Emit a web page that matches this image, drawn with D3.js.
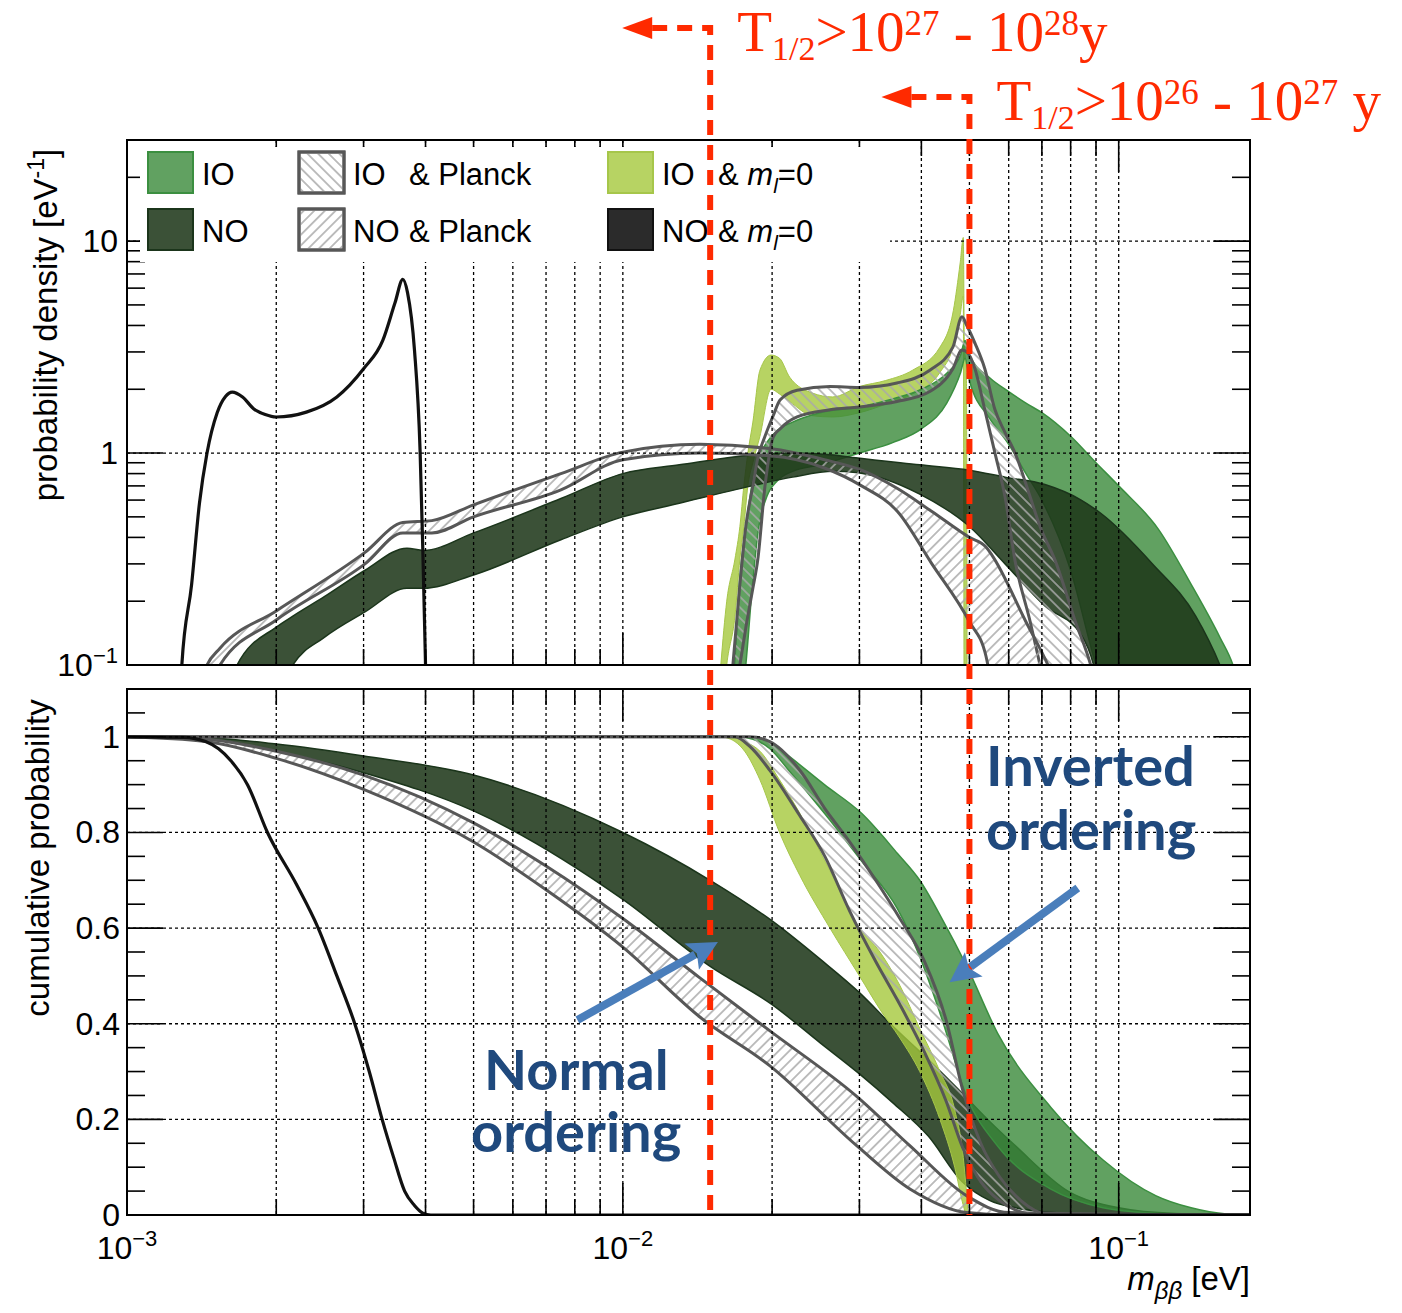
<!DOCTYPE html>
<html>
<head>
<meta charset="utf-8">
<script src="https://cdn.jsdelivr.net/npm/d3@7"></script>
<style>
  body { margin: 0; background: #fff; }
  text { font-family: "Liberation Sans", Arial, sans-serif; }
</style>
</head>
<body>
<svg id="chart" width="1402" height="1313"></svg>
<script>
// ---------- top panel: probability density [eV^-1] vs m_bb [eV]
const blackDensM = [1.27e-3, 1.29e-3, 1.35e-3, 1.40e-3, 1.45e-3, 1.52e-3, 1.58e-3, 1.63e-3, 1.71e-3, 1.80e-3, 1.90e-3, 2.0e-3, 2.3e-3, 2.65e-3, 3.0e-3, 3.28e-3, 3.47e-3, 3.6e-3, 3.68e-3, 3.8e-3, 3.9e-3, 3.95e-3, 4.0e-3, 4.03e-3];
const blackDens  = [0.05, 0.1, 0.24, 0.58, 1.0, 1.55, 1.85, 1.94, 1.84, 1.62, 1.52, 1.48, 1.56, 1.84, 2.5, 3.4, 5.1, 6.6, 5.7, 3.06, 1.03, 0.35, 0.1, 0.05];

const noDensM  = [1.6e-3, 1.667e-3, 2.0e-3, 2.16e-3, 2.5e-3, 3.02e-3, 3.67e-3, 3.96e-3, 5.0e-3, 7.5e-3, 1.0e-2, 1.3e-2, 1.82e-2, 2.2e-2, 2.66e-2, 2.95e-2, 3.97e-2, 5.0e-2, 5.9e-2, 7.1e-2, 8.4e-2, 8.9e-2, 9.2e-2, 0.117, 0.143, 0.16, 0.166];
const noDensLo = [0.04, 0.05, 0.07, 0.1, 0.135, 0.178, 0.23, 0.23, 0.266, 0.39, 0.50, 0.58, 0.70, 0.77, 0.82, 0.81, 0.64, 0.45, 0.30, 0.19, 0.139, 0.1, 0.07, 0.02, 0.01, 0.01, 0.01];
const noDensHi = [0.08, 0.1, 0.151, 0.17, 0.21, 0.28, 0.356, 0.347, 0.42, 0.61, 0.80, 0.88, 0.98, 1.0, 0.98, 0.95, 0.88, 0.83, 0.77, 0.71, 0.60, 0.55, 0.52, 0.30, 0.17, 0.10, 0.08];

const noPlDensM  = [1.4e-3, 1.45e-3, 1.54e-3, 2.0e-3, 3.02e-3, 3.6e-3, 4.12e-3, 5.0e-3, 7.5e-3, 1.0e-2, 1.43e-2, 1.98e-2, 2.55e-2, 3.03e-2, 3.58e-2, 4.2e-2, 5.0e-2, 5.4e-2, 5.55e-2, 6.5e-2, 7.2e-2, 7.5e-2];
const noPlDensLo = [0.05, 0.07, 0.1, 0.163, 0.30, 0.42, 0.42, 0.50, 0.67, 0.93, 1.0, 0.97, 0.85, 0.70, 0.53, 0.30, 0.16, 0.11, 0.08, 0.03, 0.01, 0.01];
const noPlDensHi = [0.08, 0.1, 0.12, 0.18, 0.34, 0.47, 0.48, 0.57, 0.80, 1.01, 1.1, 1.05, 0.93, 0.83, 0.68, 0.53, 0.40, 0.36, 0.33, 0.16, 0.1, 0.08];

const ioDensM  = [1.66e-2, 1.68e-2, 1.72e-2, 1.77e-2, 1.82e-2, 1.88e-2, 1.95e-2, 2.05e-2, 2.2e-2, 2.5e-2, 3.0e-2, 3.5e-2, 4.0e-2, 4.5e-2, 4.8e-2, 4.9e-2, 5.0e-2, 5.5e-2, 6.0e-2, 6.5e-2, 7.0e-2, 8.0e-2, 9.0e-2, 0.1, 0.12, 0.14, 0.16, 0.17, 0.175];
const ioDensLo = [0.03, 0.04, 0.06, 0.1, 0.22, 0.45, 0.62, 0.74, 0.82, 0.88, 1.0, 1.12, 1.3, 1.72, 2.4, 2.8, 2.2, 1.45, 1.1, 0.8, 0.6, 0.28, 0.1, 0.05, 0.02, 0.01, 0.01, 0.01, 0.01];
const ioDensHi = [0.07, 0.1, 0.25, 0.45, 0.7, 0.95, 1.12, 1.28, 1.4, 1.55, 1.65, 1.8, 2.0, 2.38, 2.9, 3.4, 2.9, 2.26, 1.95, 1.72, 1.55, 1.2, 0.9, 0.7, 0.44, 0.24, 0.135, 0.1, 0.08];

const io0DensM  = [1.55e-2, 1.576e-2, 1.62e-2, 1.683e-2, 1.722e-2, 1.754e-2, 1.787e-2, 1.829e-2, 1.89e-2, 1.99e-2, 2.07e-2, 2.17e-2, 2.41e-2, 2.65e-2, 3.0e-2, 3.39e-2, 3.84e-2, 4.36e-2, 4.64e-2, 4.79e-2, 4.86e-2, 4.884e-2, 4.93e-2, 4.95e-2];
const io0DensLo = [0.03, 0.05, 0.1, 0.17, 0.316, 0.45, 0.70, 0.9, 1.2, 2.0, 1.9, 1.75, 1.5, 1.48, 1.55, 1.7, 1.9, 2.4, 3.2, 4.5, 5.5, 0.02, 0.02, 0.02];
const io0DensHi = [0.06, 0.1, 0.2, 0.316, 0.45, 0.70, 1.0, 1.4, 2.46, 2.9, 2.8, 2.28, 1.92, 1.84, 2.06, 2.2, 2.46, 3.16, 4.7, 7.9, 10.4, 3.2, 2.5, 0.02];

const ioPlDensM  = [1.667e-2, 1.722e-2, 1.77e-2, 1.829e-2, 1.872e-2, 1.935e-2, 2.01e-2, 2.075e-2, 2.246e-2, 2.616e-2, 3.0e-2, 3.57e-2, 4.16e-2, 4.63e-2, 4.83e-2, 4.94e-2, 5.13e-2, 5.37e-2, 5.63e-2, 5.9e-2, 6.18e-2, 6.63e-2, 6.94e-2, 7.45e-2, 8.18e-2, 8.78e-2, 9.0e-2];
const ioPlDensLo = [0.06, 0.1, 0.15, 0.23, 0.316, 0.70, 1.19, 1.3, 1.48, 1.6, 1.65, 1.75, 1.95, 2.5, 3.06, 3.0, 2.5, 1.6, 1.0, 0.62, 0.31, 0.16, 0.1, 0.05, 0.02, 0.01, 0.01];
const ioPlDensHi = [0.1, 0.24, 0.45, 0.70, 0.95, 1.2, 1.5, 1.78, 1.98, 2.06, 2.04, 2.14, 2.46, 3.16, 4.4, 4.0, 3.3, 2.5, 1.6, 1.25, 1.0, 0.62, 0.45, 0.31, 0.16, 0.1, 0.08];

// ---------- bottom panel: cumulative probability
const blackCumM = [1e-3, 1.3e-3, 1.44e-3, 1.53e-3, 1.62e-3, 1.75e-3, 1.92e-3, 2.2e-3, 2.43e-3, 2.65e-3, 2.88e-3, 3.08e-3, 3.27e-3, 3.45e-3, 3.63e-3, 3.8e-3, 3.95e-3, 4.1e-3, 0.184];
const blackCum  = [1, 0.999, 0.99, 0.975, 0.95, 0.9, 0.8, 0.69, 0.6, 0.5, 0.4, 0.3, 0.2, 0.12, 0.05, 0.02, 0.004, 0, 0];

const noCumM  = [1e-3, 1.44e-3, 2e-3, 3e-3, 5e-3, 1e-2, 1.5e-2, 2e-2, 2.5e-2, 3e-2, 3.5e-2, 4.13e-2, 4.83e-2, 5.5e-2, 6.2e-2, 7.9e-2, 0.1, 0.13, 0.184];
const noCumLo = [1, 0.996, 0.97, 0.925, 0.845, 0.66, 0.52, 0.44, 0.36, 0.295, 0.235, 0.165, 0.07, 0.03, 0.015, 0.003, 0, 0, 0];
const noCumHi = [1, 0.998, 0.985, 0.96, 0.92, 0.80, 0.70, 0.615, 0.535, 0.465, 0.395, 0.325, 0.255, 0.195, 0.144, 0.05, 0.015, 0.003, 0];

const noPlCumM  = [1e-3, 1.44e-3, 2e-3, 3e-3, 5e-3, 7e-3, 1e-2, 1.43e-2, 1.98e-2, 2.97e-2, 3.8e-2, 4.94e-2, 6e-2, 0.184];
const noPlCumLo = [1, 0.99, 0.955, 0.89, 0.78, 0.68, 0.56, 0.414, 0.312, 0.144, 0.054, 0.005, 0, 0];
const noPlCumHi = [1, 0.995, 0.97, 0.92, 0.82, 0.73, 0.62, 0.496, 0.385, 0.247, 0.144, 0.04, 0.005, 0];

const ioCumM  = [1e-3, 1.7e-2, 1.83e-2, 1.98e-2, 2.16e-2, 2.55e-2, 3.03e-2, 3.58e-2, 3.97e-2, 4.4e-2, 4.94e-2, 5.7e-2, 7.3e-2, 9.3e-2, 0.119, 0.14, 0.165, 0.184];
const ioCumLo = [1, 1, 0.995, 0.975, 0.93, 0.84, 0.74, 0.64, 0.54, 0.41, 0.247, 0.144, 0.054, 0.015, 0.003, 0, 0, 0];
const ioCumHi = [1, 1, 0.998, 0.99, 0.96, 0.90, 0.84, 0.756, 0.70, 0.62, 0.52, 0.38, 0.225, 0.115, 0.04, 0.015, 0.002, 0];

const io0CumM  = [1e-3, 1.57e-2, 1.65e-2, 1.76e-2, 1.89e-2, 2.07e-2, 2.275e-2, 2.616e-2, 3.0e-2, 3.3e-2, 3.62e-2, 3.97e-2, 4.36e-2, 4.67e-2, 4.86e-2, 4.93e-2, 4.98e-2, 0.184];
const io0CumLo = [1, 1, 0.995, 0.97, 0.91, 0.8, 0.71, 0.6, 0.5, 0.43, 0.37, 0.3, 0.2, 0.1, 0.02, 0, 0, 0];
const io0CumHi = [1, 1, 1, 0.99, 0.97, 0.91, 0.84, 0.72, 0.6, 0.55, 0.48, 0.39, 0.3, 0.22, 0.12, 0.05, 0, 0];

const ioPlCumM  = [1e-3, 1.682e-2, 1.803e-2, 1.979e-2, 2.275e-2, 2.555e-2, 2.869e-2, 3.236e-2, 3.62e-2, 4.06e-2, 4.48e-2, 4.85e-2, 5.27e-2, 5.75e-2, 6.2e-2, 6.93e-2, 7.29e-2, 0.184];
const ioPlCumLo = [1, 1, 0.98, 0.93, 0.835, 0.75, 0.635, 0.53, 0.44, 0.34, 0.24, 0.14, 0.07, 0.03, 0.01, 0, 0, 0];
const ioPlCumHi = [1, 1, 1, 0.99, 0.93, 0.85, 0.78, 0.70, 0.62, 0.53, 0.41, 0.26, 0.15, 0.08, 0.04, 0.005, 0, 0];

// ticks, legend, annotations
const massTicks = [1e-3, 1e-2, 1e-1];
const densTicks = [0.1, 1, 10];
const cumTicks = [0, 0.2, 0.4, 0.6, 0.8, 1];
const legendKeys = ['io', 'ioPl', 'io0', 'no', 'noPl', 'no0'];
const legendNames = ['IO', 'IO', 'IO', 'NO', 'NO', 'NO'];
const legendSuffix = ['', '& Planck', '& m', '', '& Planck', '& m'];
const halfLifeMass = [0.015, 0.05];
const halfLifeExp = [[27, 28], [26, 27]];

const svg = d3.select('#chart');
const defs = svg.append('defs');

const x = d3.scaleLog().domain([1e-3, 0.184]).range([127, 1250]);
const yTop = d3.scaleLog().domain([0.1, 30]).range([665, 140]);
const yBot = d3.scaleLinear().domain([0, 1.1]).range([1215, 689]);

const styles = {
    io:   {fill: 'rgb(58,138,58)', opacity: 0.8, stroke: '#3b8f40', width: 1.5},
    no:   {fill: 'rgb(30,55,25)', opacity: 0.87, stroke: '#1b351b', width: 1.5},
    io0:  {fill: 'rgb(165,200,60)', opacity: 0.8, stroke: '#a6c64a', width: 1},
    no0:  {fill: '#2b2b2b', stroke: '#111', width: 2},
    ioPl: {fill: 'url(#hatchIO)', opacity: 1, stroke: '#575757', width: 3},
    noPl: {fill: 'url(#hatchNO)', opacity: 1, stroke: '#575757', width: 3}
};

[['clipTop', 140, 665], ['clipBot', 689, 1215]].forEach(([id, t, b]) => {
    defs.append('clipPath').attr('id', id).append('rect')
        .attr('x', 127).attr('y', t).attr('width', 1123).attr('height', b - t);
});

function hatch(id, angle) {
    const p = defs.append('pattern').attr('id', id)
        .attr('patternUnits', 'userSpaceOnUse')
        .attr('width', 7.5).attr('height', 7.5)
        .attr('patternTransform', 'rotate(' + angle + ')');
    p.append('line').attr('x1', 3.75).attr('y1', 0).attr('x2', 3.75).attr('y2', 7.5)
        .attr('stroke', '#a9a9a9').attr('stroke-width', 1.5);
}
hatch('hatchNO', 45);
hatch('hatchIO', -45);

const zip = (m, lo, hi) => m.map((d, i) => ({m: d, lo: lo[i], hi: hi[i]}));

function drawBand(g, y, rows, floor, st) {
    const area = d3.area()
        .x(d => x(d.m))
        .y0(d => y(Math.max(d.lo, floor)))
        .y1(d => y(Math.max(d.hi, floor)))
        .curve(d3.curveMonotoneX);
    g.append('path').datum(rows).attr('d', area)
        .attr('fill', st.fill).attr('fill-opacity', st.opacity);
    ['lo', 'hi'].forEach(k => {
        const line = d3.line().x(d => x(d.m)).y(d => y(Math.max(d[k], floor))).curve(d3.curveMonotoneX);
        g.append('path').datum(rows).attr('d', line)
            .attr('fill', 'none').attr('stroke', st.stroke).attr('stroke-width', st.width);
    });
}

function drawLine(g, y, m, v, floor) {
    const line = d3.line().x((d, i) => x(m[i])).y(d => y(Math.max(d, floor))).curve(d3.curveMonotoneX);
    g.append('path').datum(v).attr('d', line)
        .attr('fill', 'none').attr('stroke', '#111').attr('stroke-width', 3.2);
}

// ---------- bands
const topG = svg.append('g').attr('clip-path', 'url(#clipTop)');
drawBand(topG, yTop, zip(io0DensM, io0DensLo, io0DensHi), 0.01, styles.io0);
drawBand(topG, yTop, zip(ioDensM, ioDensLo, ioDensHi), 0.01, styles.io);
drawBand(topG, yTop, zip(noDensM, noDensLo, noDensHi), 0.01, styles.no);
drawBand(topG, yTop, zip(ioPlDensM, ioPlDensLo, ioPlDensHi), 0.01, styles.ioPl);
drawBand(topG, yTop, zip(noPlDensM, noPlDensLo, noPlDensHi), 0.01, styles.noPl);
drawLine(topG, yTop, blackDensM, blackDens, 0.01);

const botG = svg.append('g').attr('clip-path', 'url(#clipBot)');
drawBand(botG, yBot, zip(noCumM, noCumLo, noCumHi), -0.1, styles.no);
drawBand(botG, yBot, zip(ioCumM, ioCumLo, ioCumHi), -0.1, styles.io);
drawBand(botG, yBot, zip(io0CumM, io0CumLo, io0CumHi), -0.1, styles.io0);
drawBand(botG, yBot, zip(noPlCumM, noPlCumLo, noPlCumHi), -0.1, styles.noPl);
drawBand(botG, yBot, zip(ioPlCumM, ioPlCumLo, ioPlCumHi), -0.1, styles.ioPl);
drawLine(botG, yBot, blackCumM, blackCum, -0.1);

// ---------- grid, ticks, frames
const isDecade = v => Math.abs(Math.log10(v) - Math.round(Math.log10(v))) < 1e-6;
const xVals = x.ticks().filter(v => x(v) > 128 && x(v) < 1249);

function panel(y, t, b, gridY, yTickVals, yMajor) {
    const g = svg.append('g');
    const dot = sel => sel.attr('stroke', '#000').attr('stroke-width', 1.3).attr('stroke-dasharray', '3,3');
    xVals.forEach(v => dot(g.append('line').attr('x1', x(v)).attr('x2', x(v)).attr('y1', t).attr('y2', b)));
    gridY.forEach(v => dot(g.append('line').attr('x1', 127).attr('x2', 1250).attr('y1', y(v)).attr('y2', y(v))));

    const tick = (x1, y1, x2, y2) => g.append('line')
        .attr('x1', x1).attr('y1', y1).attr('x2', x2).attr('y2', y2)
        .attr('stroke', '#000').attr('stroke-width', 1.6);
    xVals.forEach(v => {
        const len = isDecade(v) ? 32 : 16;
        tick(x(v), b, x(v), b - len);
        tick(x(v), t, x(v), t + len);
    });
    yTickVals.forEach(v => {
        const len = yMajor(v) ? 36 : 18;
        tick(127, y(v), 127 + len, y(v));
        tick(1250, y(v), 1250 - len, y(v));
    });
    g.append('rect').attr('x', 127).attr('y', t).attr('width', 1123).attr('height', b - t)
        .attr('fill', 'none').attr('stroke', '#000').attr('stroke-width', 2);
}

panel(yTop, 140, 665, [1, 10], yTop.ticks().filter(v => v > 0.1 && v < 30), isDecade);
panel(yBot, 689, 1215, [0.2, 0.4, 0.6, 0.8, 1],
    d3.range(1, 22).map(i => i * 0.05).filter(v => v < 1.1),
    v => Math.abs(v / 0.2 - Math.round(v / 0.2)) < 1e-6);

// tick labels
densTicks.forEach(v => {
    const t = svg.append('text').attr('x', 118).attr('y', yTop(v) + 11)
        .attr('text-anchor', 'end').style('font-size', '32px');
    if (v === 0.1) {
        t.append('tspan').text('10');
        t.append('tspan').attr('dy', -13).style('font-size', '22px').text('\u22121');
    } else {
        t.text(v);
    }
});
cumTicks.forEach(v => {
    svg.append('text').attr('x', 120).attr('y', yBot(v) + 11)
        .attr('text-anchor', 'end').style('font-size', '32px').text(v);
});
massTicks.forEach(v => {
    const t = svg.append('text').attr('x', x(v)).attr('y', 1259)
        .attr('text-anchor', 'middle').style('font-size', '32px');
    t.append('tspan').text('10');
    t.append('tspan').attr('dy', -13).style('font-size', '22px').text('\u2212' + Math.abs(Math.round(Math.log10(v))));
});

// axis titles
const yt = svg.append('text').attr('transform', 'translate(57,325) rotate(-90)')
    .attr('text-anchor', 'middle').style('font-size', '33px');
yt.append('tspan').text('probability density [eV');
yt.append('tspan').attr('dy', -13).style('font-size', '23px').text('-1');
yt.append('tspan').attr('dy', 13).text(']');

svg.append('text').attr('transform', 'translate(49,858) rotate(-90)')
    .attr('text-anchor', 'middle').style('font-size', '33px').text('cumulative probability');

const xt = svg.append('text').attr('x', 1250).attr('y', 1290)
    .attr('text-anchor', 'end').style('font-size', '33px');
xt.append('tspan').style('font-style', 'italic').text('m');
xt.append('tspan').attr('dy', 9).style('font-style', 'italic').style('font-size', '24px').text('\u03b2\u03b2');
xt.append('tspan').attr('dy', -9).text(' [eV]');

// ---------- legend
svg.append('rect').attr('x', 140).attr('y', 147).attr('width', 750).attr('height', 115).attr('fill', '#fff');
const colX = [148, 299, 608];
const rowY = [152, 209];
legendKeys.forEach((k, i) => {
    const cx = colX[i % 3], cy = rowY[Math.floor(i / 3)];
    const st = styles[k];
    const hatched = k === 'ioPl' || k === 'noPl';
    svg.append('rect').attr('x', cx).attr('y', cy).attr('width', 45).attr('height', 41)
        .attr('fill', hatched ? '#fff' : st.fill)
        .attr('fill-opacity', st.opacity || 1)
        .attr('stroke', st.stroke).attr('stroke-width', hatched ? 3 : 2);
    if (hatched) {
        svg.append('rect').attr('x', cx).attr('y', cy).attr('width', 45).attr('height', 41)
            .attr('fill', st.fill).attr('stroke', st.stroke).attr('stroke-width', 3);
    }
    svg.append('text').attr('x', cx + 54).attr('y', cy + 33).style('font-size', '31px').text(legendNames[i]);
    if (legendSuffix[i]) {
        const t = svg.append('text').attr('x', cx + 110).attr('y', cy + 33).style('font-size', '31px');
        if (legendSuffix[i] === '& m') {
            t.append('tspan').text('& ');
            t.append('tspan').style('font-style', 'italic').text('m');
            t.append('tspan').attr('dy', 8).style('font-style', 'italic').style('font-size', '21px').text('l');
            t.append('tspan').attr('dy', -8).text('=0');
        } else {
            t.text(legendSuffix[i]);
        }
    }
});

// ---------- half-life sensitivity markers
const red = '#ff2a00';
const cornerY = [28, 97];
halfLifeMass.forEach((m, i) => {
    const xm = x(m), yc = cornerY[i];
    svg.append('path').attr('d', `M${xm - 58},${yc} H${xm} V1215`)
        .attr('fill', 'none').attr('stroke', red).attr('stroke-width', 6)
        .attr('stroke-dasharray', '15,10');
    svg.append('path').attr('d', `M${xm - 88},${yc} L${xm - 58},${yc - 11} L${xm - 58},${yc + 11} Z`)
        .attr('fill', red);
    const t = svg.append('text').attr('x', xm + 27).attr('y', yc + 23).attr('fill', red)
        .style('font-family', '"Liberation Serif", "Times New Roman", serif').style('font-size', '57px');
    t.append('tspan').text('T');
    t.append('tspan').attr('dy', 9).style('font-size', '34px').text('1/2');
    t.append('tspan').attr('dy', -9).text('>10');
    t.append('tspan').attr('dy', -16).style('font-size', '35px').text(halfLifeExp[i][0]);
    t.append('tspan').attr('dy', 16).text(' - 10');
    t.append('tspan').attr('dy', -16).style('font-size', '35px').text(halfLifeExp[i][1]);
    t.append('tspan').attr('dy', 16).text(i === 0 ? 'y' : ' y');
});

// ---------- ordering labels and arrows
const blue = '#4a7ebb';
function blueArrow(m1, v1, m2, v2) {
    const x1 = x(m1), y1 = yBot(v1), x2 = x(m2), y2 = yBot(v2);
    const a = Math.atan2(y2 - y1, x2 - x1);
    const L = 30, hw = 15;
    const bx = x2 - L * Math.cos(a), by = y2 - L * Math.sin(a);
    svg.append('line').attr('x1', x1).attr('y1', y1)
        .attr('x2', bx + 4 * Math.cos(a)).attr('y2', by + 4 * Math.sin(a))
        .attr('stroke', blue).attr('stroke-width', 8);
    svg.append('path')
        .attr('d', `M${x2},${y2} L${bx - hw * Math.sin(a)},${by + hw * Math.cos(a)} L${bx + 6 * Math.cos(a)},${by + 6 * Math.sin(a)} L${bx + hw * Math.sin(a)},${by - hw * Math.cos(a)} Z`)
        .attr('fill', blue);
}
blueArrow(8.1e-3, 0.408, 1.555e-2, 0.571);
blueArrow(8.27e-2, 0.684, 4.56e-2, 0.487);

const label = (tx, ty, s) => svg.append('text').attr('x', tx).attr('y', ty)
    .attr('fill', '#1f497d')
    .style('font-family', 'Lato, "Open Sans", sans-serif').style('font-weight', 'bold')
    .style('font-size', '56px').text(s);
label(986, 786, 'Inverted');
label(986, 850, 'ordering');
label(484, 1090, 'Normal');
label(471, 1152, 'ordering');
</script>
</body>
</html>
